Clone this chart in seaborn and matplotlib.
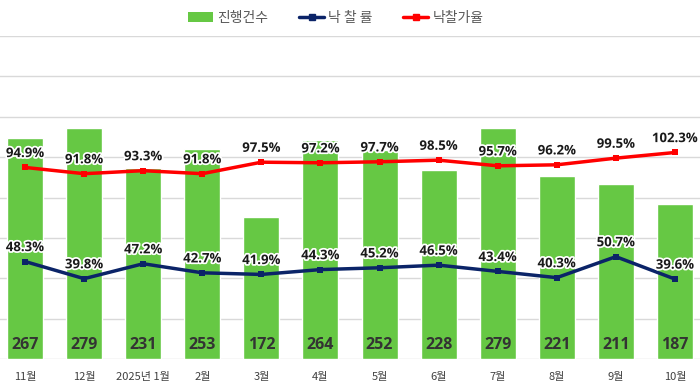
import numpy as np
import pandas as pd
import matplotlib
matplotlib.use("Agg")
import matplotlib.pyplot as plt
import matplotlib.patheffects as pe
from matplotlib.patches import Patch
from matplotlib.lines import Line2D
import seaborn as sns

sns.set_style("white")
plt.rcParams["font.family"] = ["Noto Sans CJK KR", "DejaVu Sans"]
NUM_FONT = ["Open Sans", "DejaVu Sans"]

# data
months = ["11월", "12월", "2025년 1월", "2월", "3월", "4월", "5월",
          "6월", "7월", "8월", "9월", "10월"]
counts = [267, 279, 231, 253, 172, 264, 252, 228, 279, 221, 211, 187]
win_rate = [48.3, 39.8, 47.2, 42.7, 41.9, 44.3, 45.2, 46.5, 43.4, 40.3, 50.7, 39.6]
price_rate = [94.9, 91.8, 93.3, 91.8, 97.5, 97.2, 97.7, 98.5, 95.7, 96.2, 99.5, 102.3]

GREEN = "#66C844"
NAVY = "#0B2468"
RED = "#FF0000"

df = pd.DataFrame({"month": months, "count": counts})

fig = plt.figure(figsize=(7, 3.86), dpi=100)
ax = fig.add_axes([-0.0064, 0.0699, 1.0128, 0.8368])

sns.barplot(data=df, x="month", y="count", color=GREEN, width=0.61,
            saturation=1, ax=ax, zorder=2)
ax.set_xlim(-0.5, len(months) - 0.5)
ax.set_ylim(0, 390)
ax.set_yticks(np.linspace(0, 390, 9))
ax.yaxis.grid(True, color="#D9D9D9", linewidth=1, zorder=0)
ax.set_axisbelow(True)
ax.tick_params(axis="y", left=False, labelleft=False)
ax.tick_params(axis="x", bottom=False, labelsize=8, labelcolor="#404040", pad=6)
ax.set_xlabel("")
ax.set_ylabel("")
for s in ax.spines.values():
    s.set_visible(False)

for i, c in enumerate(counts):
    ax.annotate(str(c), xy=(i, 0), xytext=(0, 4), textcoords="offset points",
                ha="center", va="bottom", fontsize=11.5, fontweight="bold",
                family=NUM_FONT, color="#333333", zorder=3)

ax2 = ax.twinx()
x = np.arange(len(months))
sns.lineplot(x=x, y=price_rate, color=RED, linewidth=2.5, marker="s",
             markersize=5, markeredgewidth=0, ax=ax2)
sns.lineplot(x=x, y=win_rate, color=NAVY, linewidth=2.5, marker="s",
             markersize=5, markeredgewidth=0, ax=ax2)
ax2.set_ylim(0, 160)
ax2.set_xlim(ax.get_xlim())
ax2.tick_params(axis="y", right=False, labelright=False)
for s in ax2.spines.values():
    s.set_visible(False)

halo = [pe.withStroke(linewidth=2.5, foreground="white")]
for i in range(len(months)):
    for v in (price_rate[i], win_rate[i]):
        ax2.annotate(f"{v:.1f}%", xy=(i, v), xytext=(0, 10),
                     textcoords="offset points", ha="center", va="center",
                     fontsize=9.5, fontweight="bold", family=NUM_FONT,
                     color="#1A1A1A", path_effects=halo, zorder=5)

handles = [
    Patch(facecolor=GREEN, edgecolor="none", label="진행건수"),
    Line2D([0], [0], color=NAVY, lw=2.5, marker="s", markersize=4, label="낙 찰 률"),
    Line2D([0], [0], color=RED, lw=2.5, marker="s", markersize=4, label="낙찰가율"),
]
fig.legend(handles=handles, loc="center", bbox_to_anchor=(0.48, 0.953), ncol=3,
           frameon=False, fontsize=10, labelcolor="#595959", handlelength=1.8,
           handletextpad=0.3, columnspacing=2.2)

fig.savefig("out.png", dpi=100)
